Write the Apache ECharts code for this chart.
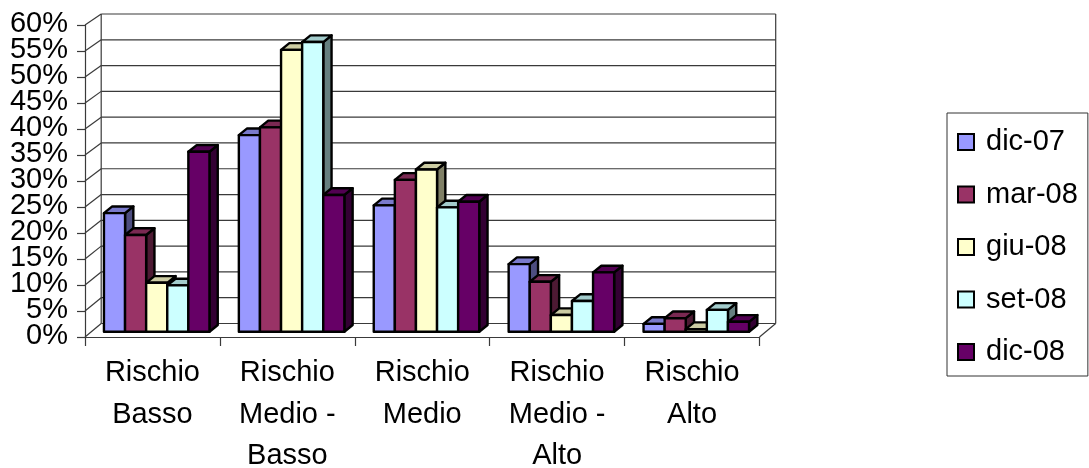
<!DOCTYPE html>
<html>
<head>
<meta charset="utf-8">
<style>html,body{margin:0;padding:0;background:#fff}#c{width:1089px;height:468px}</style>
<script src="https://cdn.jsdelivr.net/npm/echarts@6/dist/echarts.min.js"></script>
</head>
<body>
<div id="c"></div>
<script>
// Quarterly share of each risk class
const categories = ['Rischio\nBasso', 'Rischio\nMedio -\nBasso', 'Rischio\nMedio', 'Rischio\nMedio -\nAlto', 'Rischio\nAlto'];
const seriesNames = ['dic-07', 'mar-08', 'giu-08', 'set-08', 'dic-08'];
const dic07 = [22.8, 37.8, 24.3, 13.0, 1.5];
const mar08 = [18.6, 39.3, 29.2, 9.6, 2.6];
const giu08 = [9.4, 54.2, 31.2, 3.2, 0.5];
const set08 = [8.9, 55.7, 23.9, 5.9, 4.2];
const dic08 = [34.6, 26.3, 25.0, 11.4, 1.9];
const yTicks = [0, 5, 10, 15, 20, 25, 30, 35, 40, 45, 50, 55, 60];

const faceColors = ['#9999FF', '#993366', '#FFFFCC', '#CCFFFF', '#660066'];
const topColors = ['#7A7ACC', '#7A2952', '#CCCCA3', '#A3CCCC', '#520052'];
const sideColors = ['#4D4D80', '#4D1A33', '#808066', '#668080', '#330033'];
const allValues = [dic07, mar08, giu08, set08, dic08];

const FONT = '"Liberation Sans", Arial, sans-serif';
const LINE = '#3a3a3a';
const WALL_DX = 16.2;          // horizontal depth of the plot box
const BAR_W = 21.1;            // width of one bar
const BAR_DEPTH = [8.3, -6.7]; // extrusion of each bar
const BAR_FRONT = [4.25, -5.3]; // bar front plane, relative to the axis plane

const wallBackDy = v => 13.5 - (v / 60) * 2.5;

// Back wall gridline, side wall diagonal and tick label for one axis value.
// The labels are packed tighter than their own height, so they are drawn here
// rather than by the axis, which would drop the ones that touch.
function renderWall(params, api) {
  const v = api.value(0);
  const cs = params.coordSys;
  const y = api.coord([0, v])[1];
  const by = y - wallBackDy(v);
  const lx = cs.x, rx = cs.x + cs.width;
  const line = (x1, y1, x2, y2) => ({
    type: 'line',
    shape: { x1, y1, x2, y2 },
    style: { stroke: LINE, lineWidth: 1.2 }
  });
  const kids = [
    line(lx + WALL_DX, by, rx + WALL_DX, by),
    line(lx, y, lx + WALL_DX, by),
    {
      type: 'text',
      style: {
        x: lx - 17,
        y: y - 1.5,
        text: v + '%',
        fill: '#000',
        font: '29px ' + FONT,
        textAlign: 'right',
        textVerticalAlign: 'middle'
      }
    }
  ];
  if (v === 0) {
    const top = api.coord([0, 60])[1] - wallBackDy(60);
    kids.push(line(lx + WALL_DX, by, lx + WALL_DX, top));
    kids.push(line(rx + WALL_DX, by, rx + WALL_DX, top));
    kids.push(line(rx, y, rx + WALL_DX, by));
  }
  return { type: 'group', children: kids };
}

function makeBarRenderer(k) {
  return function (params, api) {
    const c = api.coord([api.value(0), api.value(1)]);
    const base = api.coord([api.value(0), 0]);
    const x0 = c[0] + BAR_FRONT[0] + (k - 2.5) * BAR_W;
    const x1 = x0 + BAR_W;
    const yT = c[1] + BAR_FRONT[1];
    const yB = base[1] + BAR_FRONT[1];
    const [dx, dy] = BAR_DEPTH;
    const stroke = { stroke: '#000', lineWidth: 2.4, lineJoin: 'round' };
    const poly = (points, fill) => ({
      type: 'polygon',
      shape: { points },
      style: Object.assign({ fill }, stroke)
    });
    return {
      type: 'group',
      children: [
        poly([[x1, yT], [x1 + dx, yT + dy], [x1 + dx, yB + dy], [x1, yB]], sideColors[k]),
        poly([[x0, yT], [x0 + dx, yT + dy], [x1 + dx, yT + dy], [x1, yT]], topColors[k]),
        poly([[x0, yT], [x1, yT], [x1, yB], [x0, yB]], faceColors[k])
      ]
    };
  };
}

const series = [{
  name: 'plotBox',
  type: 'custom',
  silent: true,
  clip: false,
  z: 1,
  encode: { y: 0 },
  data: yTicks.map(v => [v]),
  renderItem: renderWall
}].concat(seriesNames.map((name, k) => ({
  name,
  type: 'custom',
  silent: true,
  clip: false,
  z: 2,
  itemStyle: { color: faceColors[k] },
  encode: { x: 0, y: 1 },
  data: allValues[k].map((v, i) => [i, v]),
  renderItem: makeBarRenderer(k)
})));

const chart = echarts.init(document.getElementById('c'), null, { renderer: 'canvas' });
chart.setOption({
  animation: false,
  backgroundColor: '#fff',
  grid: { left: 85, top: 25, width: 674.5, height: 312, containLabel: false, outerBoundsMode: 'none' },
  xAxis: {
    type: 'category',
    data: categories,
    boundaryGap: true,
    axisLine: { show: true, lineStyle: { color: LINE, width: 1.2 } },
    axisTick: { show: true, alignWithLabel: false, length: 9, lineStyle: { color: LINE, width: 1.2 } },
    axisLabel: { interval: 0, color: '#000', fontFamily: FONT, fontSize: 29, lineHeight: 41.5, margin: 15.5, hideOverlap: false }
  },
  yAxis: {
    type: 'value',
    min: 0,
    max: 60,
    interval: 5,
    splitLine: { show: false },
    axisLine: { show: true, lineStyle: { color: LINE, width: 1.2 } },
    axisTick: { show: true, length: 8, lineStyle: { color: LINE, width: 1.2 } },
    axisLabel: { show: false }
  },
  legend: {
    orient: 'vertical',
    left: 947,
    top: 113,
    padding: [14.5, 10, 9.5, 10],
    backgroundColor: '#fff',
    borderColor: '#333',
    borderWidth: 1,
    itemWidth: 16,
    itemHeight: 16,
    itemGap: 23.5,
    selectedMode: false,
    icon: 'rect',
    data: seriesNames.map((name, k) => ({
      name,
      itemStyle: { color: faceColors[k], borderColor: '#000', borderWidth: 2 }
    })),
    textStyle: { color: '#000', fontFamily: FONT, fontSize: 29, padding: [0, 0, 0, 7] }
  },
  series
});
</script>
</body>
</html>
